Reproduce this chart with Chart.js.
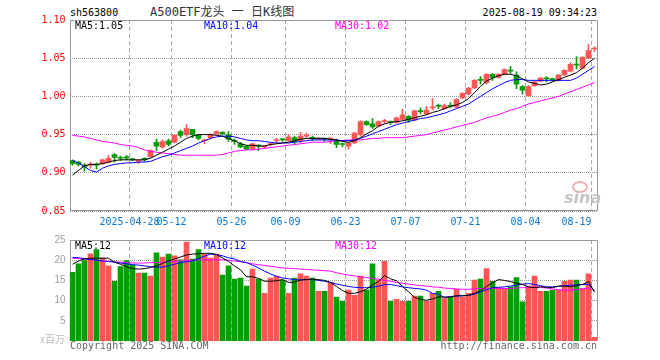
<!DOCTYPE html>
<html>
<head>
<meta charset="utf-8">
<script src="https://cdn.jsdelivr.net/npm/chart.js@4/dist/chart.umd.min.js"></script>
<style>
  body { margin: 0; width: 660px; height: 360px; background: #fff; position: relative; overflow: hidden; }
  canvas { position: absolute; left: 0; }
  .txt { position: absolute; white-space: nowrap; font-family: 'DejaVu Sans Mono', monospace; font-size: 10px; line-height: 12px; }
  .mark { position: absolute; left: 563px; top: 181px; width: 36px; height: 28px; }
</style>
</head>
<body>
<div class="txt" style="left:70px;top:7px;color:#000;">sh563800</div>
<div class="txt" style="left:150px;top:5px;font-size:12px;line-height:14px;color:#333;font-family:'DejaVu Sans Mono','Noto Sans CJK SC',monospace;">A500ETF龙头 一 日K线图</div>
<div class="txt" style="right:63px;top:7px;color:#000;">2025-08-19 09:34:23</div>

<canvas id="kChart" width="600" height="226" style="top:5px;width:600px;height:226px;"></canvas>
<canvas id="volChart" width="600" height="115" style="top:232px;width:600px;height:115px;"></canvas>

<div class="txt" style="left:75px;top:20px;color:#000;">MA5:1.05</div>
<div class="txt" style="left:204px;top:20px;color:#0000ff;">MA10:1.04</div>
<div class="txt" style="left:335px;top:20px;color:#ff00ff;">MA30:1.02</div>

<div class="txt" style="left:75px;top:240px;color:#000;">MA5:12</div>
<div class="txt" style="left:204px;top:240px;color:#0000ff;">MA10:12</div>
<div class="txt" style="left:335px;top:240px;color:#ff00ff;">MA30:12</div>

<div class="mark">
  <div style="position:absolute;left:9px;top:0;width:12px;height:8px;border:2px solid #f4b0b0;border-radius:50%;"></div>
  <div style="position:absolute;left:1px;top:7px;font:italic bold 16px 'DejaVu Sans',sans-serif;color:#c4c4c4;">sina</div>
</div>

<div class="txt" style="right:595px;top:333px;color:#bbb;font-family:'Noto Sans CJK SC',sans-serif;">x百万</div>
<div class="txt" style="left:70px;top:340px;color:#666;">Copyright 2025 SINA.COM</div>
<div class="txt" style="right:63px;top:340px;color:#666;">http://finance.sina.com.cn</div>

<script>
'use strict';

const tradeDates = [
  '2025-04-14', '2025-04-15', '2025-04-16', '2025-04-17', '2025-04-18', '2025-04-21', '2025-04-22', '2025-04-23', '2025-04-24', '2025-04-25',
  '2025-04-28', '2025-04-29', '2025-04-30', '2025-05-06', '2025-05-07', '2025-05-08', '2025-05-09', '2025-05-12', '2025-05-13', '2025-05-14',
  '2025-05-15', '2025-05-16', '2025-05-19', '2025-05-20', '2025-05-21', '2025-05-22', '2025-05-23', '2025-05-26', '2025-05-27', '2025-05-28',
  '2025-05-29', '2025-05-30', '2025-06-03', '2025-06-04', '2025-06-05', '2025-06-06', '2025-06-09', '2025-06-10', '2025-06-11', '2025-06-12',
  '2025-06-13', '2025-06-16', '2025-06-17', '2025-06-18', '2025-06-19', '2025-06-20', '2025-06-23', '2025-06-24', '2025-06-25', '2025-06-26',
  '2025-06-27', '2025-06-30', '2025-07-01', '2025-07-02', '2025-07-03', '2025-07-04', '2025-07-07', '2025-07-08', '2025-07-09', '2025-07-10',
  '2025-07-11', '2025-07-14', '2025-07-15', '2025-07-16', '2025-07-17', '2025-07-18', '2025-07-21', '2025-07-22', '2025-07-23', '2025-07-24',
  '2025-07-25', '2025-07-28', '2025-07-29', '2025-07-30', '2025-07-31', '2025-08-01', '2025-08-04', '2025-08-05', '2025-08-06', '2025-08-07',
  '2025-08-08', '2025-08-11', '2025-08-12', '2025-08-13', '2025-08-14', '2025-08-15', '2025-08-18', '2025-08-19',
];

const axisDates = ['2025-04-28', '2025-05-12', '2025-05-26', '2025-06-09', '2025-06-23', '2025-07-07', '2025-07-21', '2025-08-04', '2025-08-19'];
const axisLabels = ['2025-04-28', '05-12', '05-26', '06-09', '06-23', '07-07', '07-21', '08-04', '08-19'];
const priceTicks = [0.85, 0.90, 0.95, 1.00, 1.05, 1.10];
const volumeTicks = [5, 10, 15, 20, 25];

const opens = [
  0.916, 0.914, 0.910, 0.910, 0.911, 0.912, 0.914, 0.924, 0.920, 0.921,
  0.918, 0.915, 0.919, 0.921, 0.940, 0.934, 0.942, 0.940, 0.954, 0.950,
  0.957, 0.949, 0.942, 0.946, 0.951, 0.953, 0.950, 0.942, 0.938, 0.935,
  0.931, 0.936, 0.934, 0.937, 0.942, 0.944, 0.942, 0.946, 0.942, 0.948,
  0.946, 0.944, 0.945, 0.944, 0.942, 0.938, 0.935, 0.939, 0.950, 0.967,
  0.964, 0.961, 0.967, 0.967, 0.966, 0.970, 0.974, 0.969, 0.981, 0.977,
  0.985, 0.988, 0.984, 0.988, 0.986, 0.998, 1.003, 1.011, 1.022, 1.018,
  1.029, 1.025, 1.029, 1.034, 1.028, 1.013, 1.001, 1.014, 1.020, 1.024,
  1.023, 1.021, 1.028, 1.033, 1.042, 1.037, 1.050, 1.062,
];
const highs = [
  0.917, 0.915, 0.912, 0.914, 0.913, 0.918, 0.923, 0.925, 0.922, 0.923,
  0.919, 0.917, 0.920, 0.930, 0.944, 0.943, 0.944, 0.950, 0.956, 0.963,
  0.957, 0.950, 0.944, 0.951, 0.955, 0.954, 0.954, 0.944, 0.940, 0.936,
  0.939, 0.937, 0.936, 0.939, 0.945, 0.945, 0.950, 0.948, 0.953, 0.952,
  0.948, 0.946, 0.945, 0.946, 0.944, 0.939, 0.940, 0.953, 0.968, 0.968,
  0.971, 0.968, 0.970, 0.968, 0.973, 0.983, 0.975, 0.982, 0.985, 0.987,
  0.997, 0.990, 0.990, 0.992, 0.997, 1.005, 1.012, 1.022, 1.026, 1.030,
  1.030, 1.030, 1.036, 1.039, 1.032, 1.014, 1.014, 1.020, 1.025, 1.026,
  1.024, 1.029, 1.035, 1.044, 1.052, 1.052, 1.068, 1.065,
];
const lows = [
  0.910, 0.909, 0.902, 0.906, 0.905, 0.911, 0.913, 0.914, 0.916, 0.917,
  0.916, 0.912, 0.915, 0.920, 0.929, 0.932, 0.935, 0.939, 0.946, 0.948,
  0.946, 0.943, 0.938, 0.944, 0.950, 0.950, 0.941, 0.937, 0.933, 0.930,
  0.930, 0.929, 0.932, 0.935, 0.939, 0.941, 0.941, 0.938, 0.939, 0.946,
  0.942, 0.943, 0.941, 0.938, 0.933, 0.934, 0.931, 0.938, 0.948, 0.962,
  0.958, 0.960, 0.965, 0.963, 0.965, 0.969, 0.966, 0.968, 0.977, 0.976,
  0.982, 0.984, 0.983, 0.985, 0.985, 0.997, 1.002, 1.010, 1.016, 1.016,
  1.021, 1.024, 1.028, 1.030, 1.010, 1.003, 1.000, 1.013, 1.019, 1.019,
  1.020, 1.020, 1.027, 1.032, 1.036, 1.036, 1.049, 1.059,
];
const closes = [
  0.912, 0.911, 0.908, 0.911, 0.910, 0.917, 0.919, 0.920, 0.919, 0.919,
  0.917, 0.916, 0.917, 0.929, 0.935, 0.941, 0.937, 0.949, 0.949, 0.958,
  0.950, 0.945, 0.943, 0.950, 0.954, 0.951, 0.944, 0.941, 0.934, 0.931,
  0.938, 0.935, 0.935, 0.938, 0.943, 0.943, 0.947, 0.941, 0.948, 0.949,
  0.945, 0.945, 0.944, 0.945, 0.937, 0.937, 0.939, 0.952, 0.967, 0.963,
  0.960, 0.967, 0.968, 0.966, 0.972, 0.976, 0.969, 0.981, 0.980, 0.982,
  0.986, 0.987, 0.988, 0.987, 0.996, 1.004, 1.011, 1.021, 1.021, 1.029,
  1.025, 1.029, 1.035, 1.033, 1.016, 1.008, 1.013, 1.019, 1.024, 1.023,
  1.022, 1.028, 1.034, 1.042, 1.041, 1.051, 1.060, 1.063,
];

const priceMa5 = [
  0.897, 0.903, 0.909, 0.911, 0.911, 0.912, 0.914, 0.916, 0.917, 0.917,
  0.917, 0.917, 0.917, 0.919, 0.923, 0.927, 0.931, 0.935, 0.940, 0.945,
  0.948, 0.950, 0.950, 0.950, 0.949, 0.948, 0.945, 0.942, 0.938, 0.936,
  0.936, 0.935, 0.935, 0.937, 0.938, 0.939, 0.940, 0.942, 0.944, 0.945,
  0.945, 0.945, 0.945, 0.944, 0.943, 0.941, 0.940, 0.942, 0.946, 0.951,
  0.955, 0.961, 0.964, 0.966, 0.967, 0.968, 0.970, 0.972, 0.974, 0.976,
  0.979, 0.981, 0.984, 0.987, 0.989, 0.992, 0.997, 1.005, 1.013, 1.020,
  1.024, 1.027, 1.029, 1.029, 1.027, 1.023, 1.019, 1.017, 1.015, 1.016,
  1.019, 1.022, 1.025, 1.028, 1.031, 1.037, 1.044, 1.050,
];
const priceMa10 = [
  0.916, 0.913, 0.908, 0.903, 0.901, 0.906, 0.909, 0.911, 0.912, 0.913,
  0.913, 0.914, 0.914, 0.915, 0.918, 0.921, 0.923, 0.926, 0.929, 0.932,
  0.935, 0.939, 0.942, 0.945, 0.947, 0.948, 0.948, 0.947, 0.945, 0.943,
  0.942, 0.942, 0.941, 0.940, 0.939, 0.939, 0.939, 0.940, 0.941, 0.942,
  0.943, 0.943, 0.943, 0.943, 0.943, 0.942, 0.942, 0.943, 0.945, 0.948,
  0.951, 0.954, 0.957, 0.960, 0.963, 0.965, 0.967, 0.969, 0.971, 0.972,
  0.974, 0.976, 0.978, 0.981, 0.984, 0.987, 0.990, 0.995, 1.000, 1.005,
  1.010, 1.014, 1.018, 1.021, 1.022, 1.022, 1.021, 1.021, 1.021, 1.021,
  1.021, 1.021, 1.021, 1.021, 1.024, 1.029, 1.034, 1.039,
];
const priceMa30 = [
  0.949, 0.948, 0.947, 0.945, 0.943, 0.941, 0.940, 0.939, 0.937, 0.936,
  0.935, 0.933, 0.930, 0.928, 0.927, 0.926, 0.925, 0.924, 0.923, 0.923,
  0.923, 0.923, 0.923, 0.923, 0.923, 0.924, 0.926, 0.928, 0.929, 0.930,
  0.930, 0.931, 0.932, 0.933, 0.934, 0.935, 0.936, 0.937, 0.938, 0.939,
  0.940, 0.940, 0.940, 0.941, 0.942, 0.942, 0.943, 0.943, 0.943, 0.944,
  0.945, 0.945, 0.946, 0.946, 0.946, 0.946, 0.947, 0.948, 0.949, 0.950,
  0.952, 0.954, 0.956, 0.958, 0.960, 0.962, 0.964, 0.966, 0.969, 0.972,
  0.974, 0.976, 0.979, 0.982, 0.984, 0.987, 0.990, 0.992, 0.994, 0.996,
  0.998, 1.000, 1.003, 1.006, 1.009, 1.012, 1.015, 1.018,
];

// volume, millions of shares
const volumes = [
  17.0, 19.1, 19.9, 21.6, 22.6, 20.5, 18.6, 14.8, 18.4, 19.9,
  18.8, 16.8, 16.8, 16.1, 21.8, 20.8, 21.5, 21.1, 20.1, 24.5,
  20.3, 22.6, 21.5, 20.5, 21.5, 16.3, 18.6, 15.3, 15.6, 13.6,
  17.8, 15.3, 11.8, 15.6, 16.1, 15.1, 11.8, 15.6, 16.6, 16.1,
  15.6, 12.3, 12.3, 14.5, 10.9, 9.8, 12.6, 11.3, 16.1, 12.6,
  19.1, 15.1, 19.7, 9.8, 10.3, 9.8, 9.8, 11.1, 11.1, 9.8,
  11.8, 12.3, 10.5, 10.8, 12.8, 10.9, 11.8, 15.1, 15.3, 17.9,
  14.8, 13.2, 13.0, 13.4, 15.7, 9.7, 13.6, 16.1, 12.3, 12.3,
  12.6, 12.6, 14.8, 15.1, 15.1, 13.0, 16.6, 0.9,
];
const volMa5 = [
  19.0, 19.8, 20.3, 20.5, 20.5, 20.5, 20.5, 19.5, 19.0, 18.4,
  17.9, 17.8, 17.9, 18.2, 18.6, 19.2, 19.8, 20.3, 20.8, 21.3,
  21.5, 21.6, 21.7, 21.7, 21.4, 20.6, 19.7, 18.6, 17.6, 15.9,
  15.9, 15.5, 14.8, 14.8, 14.9, 15.2, 14.5, 14.6, 15.1, 15.2,
  15.3, 15.2, 15.0, 14.5, 13.5, 12.5, 11.8, 11.8, 12.2, 12.8,
  13.9, 14.7, 16.2, 15.4, 14.9, 13.5, 12.2, 10.8, 10.3, 10.1,
  10.4, 10.9, 10.9, 10.9, 11.2, 11.2, 11.3, 11.8, 12.4, 13.5,
  14.4, 15.2, 15.0, 14.7, 14.3, 14.0, 13.4, 13.2, 13.4, 13.3,
  13.2, 13.6, 13.6, 13.4, 13.7, 14.0, 14.7, 12.1,
];
const volMa10 = [
  20.7, 20.6, 20.4, 20.2, 20.0, 19.8, 19.7, 19.5, 19.3, 19.1,
  18.9, 18.8, 18.6, 18.4, 18.3, 18.3, 18.6, 19.0, 19.4, 19.6,
  19.8, 20.4, 21.0, 21.5, 21.4, 21.1, 20.6, 20.3, 19.7, 19.4,
  18.8, 18.1, 17.3, 16.6, 16.0, 15.6, 15.4, 15.2, 15.1, 15.2,
  15.2, 15.0, 14.8, 14.5, 14.1, 13.8, 13.5, 13.3, 13.2, 13.2,
  13.3, 13.6, 13.9, 14.0, 13.7, 13.4, 13.2, 13.0, 12.9, 12.6,
  11.8, 11.6, 10.7, 11.0, 11.1, 11.2, 11.3, 11.6, 12.2, 12.7,
  13.2, 13.3, 13.4, 13.6, 13.8, 14.1, 14.2, 14.0, 13.7, 13.4,
  13.4, 13.5, 13.7, 13.8, 13.9, 14.0, 14.0, 12.5,
];
const volMa30 = [
  20.5, 20.4, 20.3, 20.1, 20.0, 19.8, 19.7, 19.6, 19.5, 19.4,
  19.3, 19.3, 19.3, 19.4, 19.4, 19.5, 19.6, 19.7, 19.8, 19.9,
  20.0, 20.1, 20.1, 20.1, 20.1, 20.1, 20.0, 19.8, 19.6, 19.4,
  19.1, 18.9, 18.7, 18.5, 18.3, 18.1, 18.0, 17.9, 17.8, 17.7,
  17.6, 17.5, 17.4, 17.3, 16.9, 16.6, 16.3, 16.1, 15.9, 15.7,
  15.5, 15.3, 15.0, 14.8, 14.5, 14.3, 14.1, 13.9, 13.7, 13.6,
  13.4, 13.3, 13.1, 13.0, 12.9, 12.8, 12.8, 12.9, 13.0, 13.0,
  13.0, 13.0, 13.0, 13.0, 13.1, 13.2, 13.2, 13.3, 13.3, 13.1,
  12.9, 12.7, 12.6, 12.6, 12.7, 12.9, 13.1, 12.6,
];

const UP = '#ff5555';
const DOWN = '#00a000';
const candleColors = closes.map((c, i) => (c >= opens[i] ? UP : DOWN));
const markIndex = new Map(axisDates.map((d, k) => [tradeDates.indexOf(d), axisLabels[k]]));
const lastIndex = tradeDates.length - 1;

const framePlugin = {
  id: 'frame',
  beforeDatasetsDraw(chart, args, opts) {
    const { ctx, chartArea } = chart;
    const left = Math.round(chartArea.left) + 0.5;
    const right = Math.floor(chartArea.right) + 0.5;
    const top = Math.round(chartArea.top) + 0.5;
    const bottom = Math.round(chartArea.bottom) - 0.5;
    ctx.save();
    ctx.strokeStyle = '#999';
    ctx.lineWidth = 1;
    ctx.beginPath();
    ctx.moveTo(left, bottom);
    ctx.lineTo(left, top);
    ctx.lineTo(right, top);
    ctx.lineTo(right, bottom);
    if (opts.bottom) ctx.lineTo(left, bottom);
    ctx.stroke();
    ctx.restore();
  },
};

function maLine(label, data, color) {
  return {
    type: 'line',
    label,
    data,
    borderColor: color,
    borderWidth: 1,
    pointRadius: 0,
    tension: 0,
    fill: false,
    order: 0,
  };
}

function dateAxis(showLabels) {
  return {
    type: 'category',
    offset: true,
    grid: {
      offset: true,
      drawTicks: false,
      lineWidth: 1,
      color: (ctx) => (markIndex.has(ctx.index) ? '#a8a8a8' : 'rgba(0,0,0,0)'),
    },
    border: { display: false, dash: [4, 3] },
    ticks: {
      display: showLabels,
      autoSkip: false,
      maxRotation: 0,
      minRotation: 0,
      padding: 5,
      labelOffset: -3,
      color: '#0a78d2',
      font: { family: 'DejaVu Sans Mono', size: 10 },
      callback: (value, index) => {
        const text = markIndex.get(index) || '';
        return index === lastIndex ? text + '     ' : text;
      },
    },
    afterFit: (scale) => {
      scale.height = showLabels ? 18 : 0;
      scale.paddingLeft = 0;
      scale.paddingRight = 0;
    },
  };
}

const baseOptions = {
  responsive: false,
  animation: false,
  devicePixelRatio: 1,
  events: [],
};

new Chart(document.getElementById('kChart'), {
  type: 'bar',
  data: {
    labels: tradeDates,
    datasets: [
      maLine('MA5', priceMa5, '#000000'),
      maLine('MA10', priceMa10, '#0000ff'),
      maLine('MA30', priceMa30, '#ff00ff'),
      {
        label: 'body',
        data: opens.map((o, i) => [o, closes[i]]),
        backgroundColor: candleColors,
        barThickness: 5,
        minBarLength: 1,
        grouped: false,
        borderWidth: 0,
        order: 1,
      },
      {
        label: 'wick',
        data: lows.map((l, i) => [l, highs[i]]),
        backgroundColor: candleColors,
        barThickness: 1,
        grouped: false,
        borderWidth: 0,
        order: 2,
      },
    ],
  },
  options: {
    ...baseOptions,
    layout: { padding: { top: 15, right: 2.5, bottom: 2, left: 0 } },
    plugins: { legend: { display: false }, tooltip: { enabled: false }, frame: { bottom: true } },
    scales: {
      x: dateAxis(true),
      y: {
        min: 0.85,
        max: 1.10,
        afterBuildTicks: (scale) => { scale.ticks = priceTicks.map((v) => ({ value: v })); },
        grid: { color: '#9a9a9a', drawTicks: false, lineWidth: 1 },
        border: { display: false, dash: [1, 1] },
        ticks: {
          color: '#ff0000',
          padding: 4,
          font: { family: 'DejaVu Sans Mono', size: 10 },
          callback: (v) => Number(v).toFixed(2),
        },
        afterFit: (scale) => {
          scale.width = 69.5;
          scale.paddingTop = 0;
          scale.paddingBottom = 0;
        },
      },
    },
  },
  plugins: [framePlugin],
});

new Chart(document.getElementById('volChart'), {
  type: 'bar',
  data: {
    labels: tradeDates,
    datasets: [
      maLine('MA5', volMa5, '#000000'),
      maLine('MA10', volMa10, '#0000ff'),
      maLine('MA30', volMa30, '#ff00ff'),
      {
        label: 'volume',
        data: volumes,
        backgroundColor: candleColors,
        barThickness: 5,
        borderWidth: 0,
        order: 1,
      },
    ],
  },
  options: {
    ...baseOptions,
    layout: { padding: { top: 8, right: 2.5, bottom: 6, left: 0 } },
    plugins: { legend: { display: false }, tooltip: { enabled: false }, frame: { bottom: false } },
    scales: {
      x: dateAxis(false),
      y: {
        min: 0,
        max: 25,
        afterBuildTicks: (scale) => { scale.ticks = volumeTicks.map((v) => ({ value: v })); },
        grid: { color: '#9a9a9a', drawTicks: false, lineWidth: 1 },
        border: { display: false, dash: [1, 1] },
        ticks: {
          color: '#a0a0a0',
          padding: 4,
          font: { family: 'Liberation Sans', size: 10 },
        },
        afterFit: (scale) => {
          scale.width = 69.5;
          scale.paddingTop = 0;
          scale.paddingBottom = 0;
        },
      },
    },
  },
  plugins: [framePlugin],
});
</script>
</body>
</html>
